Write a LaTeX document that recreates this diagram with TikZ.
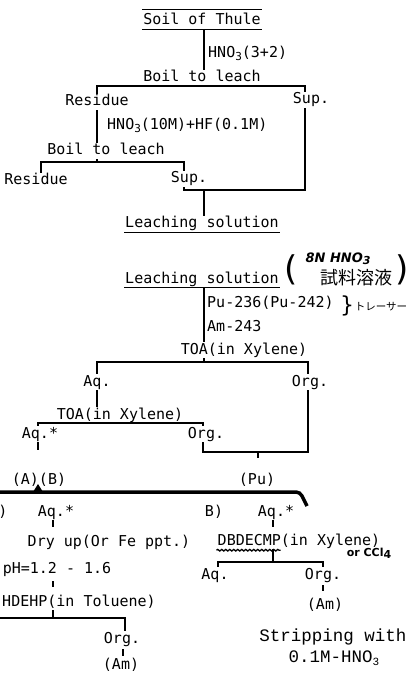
\documentclass[tikz,border=0pt]{standalone}
\usepackage{fontspec}
\newfontfamily\labelfont{DejaVu Sans Mono}
\newfontfamily\stripfont{Liberation Mono}
\newfontfamily\handfont{DejaVu Sans}
\newfontfamily\cjkfont{Noto Sans CJK JP}
\usetikzlibrary{decorations.pathmorphing}
\newcommand{\lowidx}[1]{\raisebox{-0.35ex}{\fontsize{11}{11}\selectfont #1}}

\begin{document}
\begin{tikzpicture}[
    x=1pt, y=-1pt,
    lbl/.style={
      inner sep=1pt,
      yshift=-2pt,
      text height=11pt,
      text depth=3pt,
      font=\labelfont\fontsize{15}{15}\selectfont
    },
    note/.style={
      lbl,
      anchor=west
    },
    strip/.style={
      inner sep=1pt,
      font=\stripfont\fontsize{17.5}{17.5}\selectfont
    },
    hand/.style={
      inner sep=0pt,
      font=\handfont\bfseries\itshape\fontsize{13}{13}\selectfont
    },
    paren/.style={
      inner sep=0pt,
      font=\handfont\fontsize{34}{34}\selectfont
    },
    jp/.style={
      inner sep=0pt,
      font=\cjkfont\fontsize{18}{18}\selectfont
    },
    link/.style={
      line width=1.1pt
    }
  ]

    \useasboundingbox (0,0) rectangle (411,700);

    % --- Leaching of the soil
    \node[lbl] (soil) at (202,19) {Soil of Thule};
    \draw[link] ([yshift=3]soil.north west) -- ([yshift=3]soil.north east);
    \draw[link] (soil.south west) -- (soil.south east);
    \node[note] (acid1) at (207,52) {HNO\lowidx{3}(3+2)};
    \node[lbl] (boil1) at (202,76) {Boil to leach};
    \draw[link] ([xshift=2]soil.south) -- ([xshift=2]boil1.north);

    \node[lbl] (res1) at (97,100) {Residue};
    \node[lbl] (sup1) at (311,98) {Sup.};
    \coordinate (fork1) at (204,86);
    \draw[link] (res1.north) |- (fork1) -| ([xshift=-6]sup1.north);
    \draw[link] (fork1) -- (fork1 |- boil1.south);

    \node[note] (acid2) at (106,124) {HNO\lowidx{3}(10M)+HF(0.1M)};
    \node[lbl] (boil2) at (106,149) {Boil to leach};
    \draw[link] (res1.south) -- (res1.south |- boil2.north);

    \node[lbl] (res2) at (36,179) {Residue};
    \node[lbl] (sup2) at (189,177) {Sup.};
    \coordinate (fork2) at (97,162);
    \draw[link] ([xshift=5]res2.north) |- (fork2) -| ([xshift=-5]sup2.north);
    \draw[link] (fork2) -- (fork2 |- boil2.south);

    % --- Both supernatants joined
    \node[lbl] (leach1) at (202,222) {Leaching solution};
    \draw[link] (leach1.south west) -- (leach1.south east);
    \coordinate (join1) at (204,190);
    \draw[link] ([xshift=-6]sup1.south) |- (join1) -| ([xshift=-5]sup2.south);
    \draw[link] (join1) -- (join1 |- leach1.north);

    % --- Separation scheme
    \node[lbl] (leach2) at (202,277) {Leaching solution};
    \draw[link] (leach2.south west) -- (leach2.south east);
    \node[paren] (lpar) at (291,270) {(};
    \node[hand] (conc) at (338,259) {8N HNO\lowidx{3}};
    \node[jp] (sample) at (356,278) {試料溶液};
    \node[paren] (rpar) at (402,270) {)};

    \node[note] (tracer1) at (206,301) {Pu-236(Pu-242)};
    \node[note] (tracer2) at (206,325) {Am-243};
    \node[paren, font=\handfont\fontsize{22}{22}\selectfont] (brace) at (347,306) {\}};
    \node[jp, font=\cjkfont\fontsize{10.5}{10.5}\selectfont] (tracer) at (381,307) {トレーサー};

    \node[lbl] (toa1) at (244,348) {TOA(in Xylene)};
    \draw[link] ([xshift=2]leach2.south) -- ([xshift=2]leach2.south |- toa1.north);

    \node[lbl] (aq1) at (97,380) {Aq.};
    \node[lbl] (org1) at (310,380) {Org.};
    \coordinate (fork3) at (204,362);
    \draw[link] (aq1.north) |- (fork3) -| ([xshift=-2]org1.north);
    \draw[link] (fork3) -- (fork3 |- toa1.south);

    \node[lbl] (toa2) at (120,413) {TOA(in Xylene)};
    \draw[link] (aq1.south) -- (aq1.south |- toa2.north);

    \node[lbl] (aq2) at (40,432) {Aq.*};
    \node[lbl] (org2) at (206,432) {Org.};
    \coordinate (fork4) at (97,423);
    \draw[link] ([xshift=-2]aq2.north) |- (fork4) -| ([xshift=-3]org2.north);
    \draw[link] (fork4) -- (fork4 |- toa2.south);
    \draw[link] ([xshift=-2]aq2.south) -- ++(0,8);

    \node[lbl] (pu) at (257,478) {(Pu)};
    \coordinate (join2) at (258,452);
    \draw[link] ([xshift=-3]org2.south) |- (join2) -| ([xshift=-2]org1.south);
    \draw[link] (join2) -- ++(0,6);

    \node[lbl] (ab) at (39,478) {(A)(B)};

    % --- Thick divider (drawn by hand)
    \draw[line width=3.5pt, rounded corners=4] (0,492) -- (300,492) -- (307,506);
    \fill (33,492) -- (38,484) -- (43,492) -- cycle;

    \node[lbl] (parA) at (3,510) {)};
    \node[lbl] (aq3) at (56,510) {Aq.*};
    \node[lbl] (parB) at (214,510) {B)};
    \node[lbl] (aq4) at (276,510) {Aq.*};

    % --- Route A: HDEHP
    \node[lbl] (dry) at (109,540) {Dry up(Or Fe ppt.)};
    \draw[link] ([xshift=-3]aq3.south) -- ++(0,7);
    \node[lbl] (ph) at (57,567) {pH=1.2 - 1.6};
    \draw[link] ([xshift=-4,yshift=-4]ph.south) -- ++(0,6);
    \node[lbl] (hdehp) at (79,600) {HDEHP(in Toluene)};
    \node[lbl] (org3) at (122,637) {Org.};
    \coordinate (edge) at (0,618);
    \coordinate (fork5) at (53,618);
    \draw[link] (edge) -- (fork5) -| ([xshift=3]org3.north);
    \draw[link] (fork5) -- (fork5 |- hdehp.south);
    \node[lbl] (am1) at (121,663) {(Am)};
    \draw[link] ([xshift=1,yshift=-2]org3.south) -- ++(0,7);

    % --- Route B: DBDECMP
    \node[lbl] (dbd) at (299,539) {DBDECMP(in Xylene)};
    \draw[link] ([xshift=-3]aq4.south) -- ++(0,7);
    \draw[decorate, decoration={snake, amplitude=0.8pt, segment length=4pt}, line width=1.3pt]
      ([yshift=-1]dbd.south west) -- ++(64,0);
    \node[hand, font=\handfont\bfseries\fontsize{11}{11}\selectfont] (ccl) at (369,553) {or CCl\lowidx{4}};
    \node[lbl] (aq5) at (215,573) {Aq.};
    \node[lbl] (org4) at (323,573) {Org.};
    \coordinate (fork6) at (273,562);
    \draw[link] ([xshift=3]aq5.north) |- (fork6) -| (org4.north);
    \draw[link] (fork6) -- (fork6 |- dbd.south);
    \node[lbl] (am2) at (325,603) {(Am)};
    \draw[link] ([yshift=-2]org4.south) -- ++(0,6);

    \node[strip] (strip1) at (333,637) {Stripping with};
    \node[strip] (strip2) at (334,658) {0.1M-HNO\lowidx{3}};

  \end{tikzpicture}
\end{document}
